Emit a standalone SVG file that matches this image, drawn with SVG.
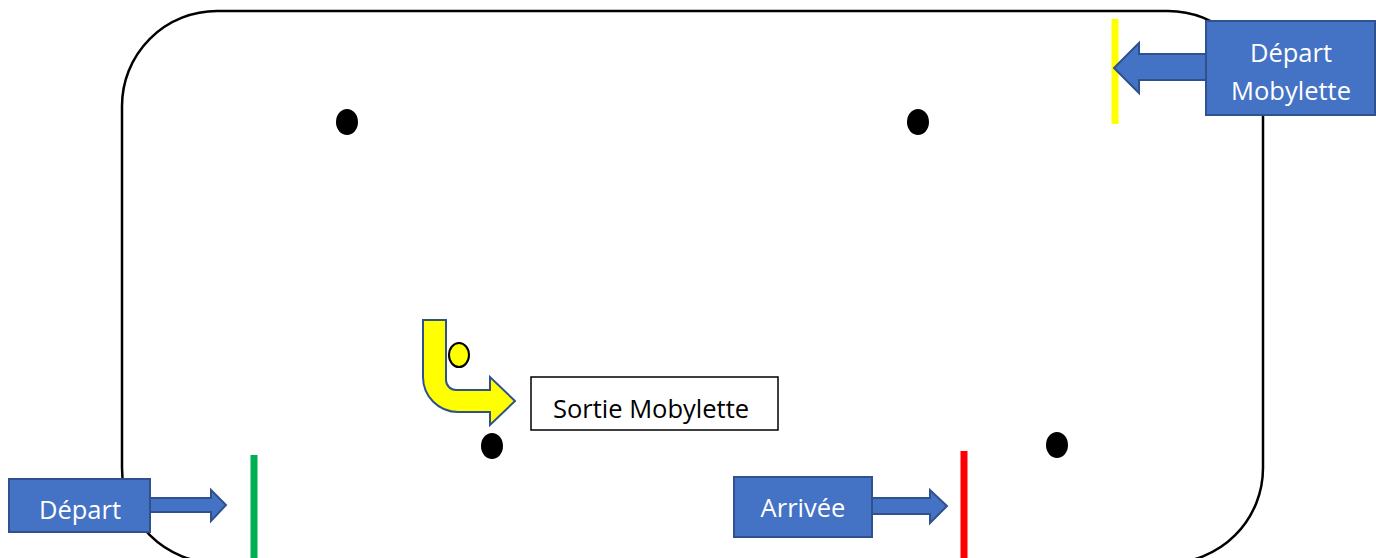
<svg xmlns="http://www.w3.org/2000/svg" width="1376" height="558" viewBox="0 0 1376 558">
<style>
.lbl{font-family:"Open Sans","Liberation Sans",sans-serif;font-size:25.5px;text-anchor:middle}
.w{fill:#ffffff}
.k{fill:#000000}
.blue{fill:#4472C4;stroke:#2F528F;stroke-width:2}
.dot{fill:#000000}
</style>
<rect width="1376" height="558" fill="#ffffff"/>
<g id="track"><rect x="122" y="11" width="1141" height="552" rx="95" ry="95" fill="none" stroke="#000000" stroke-width="2.5"/></g>
<g id="cones">
<ellipse class="dot" cx="347" cy="122" rx="11" ry="13"/>
<ellipse class="dot" cx="918" cy="122" rx="11" ry="13"/>
<ellipse class="dot" cx="492" cy="446" rx="11" ry="13"/>
<ellipse class="dot" cx="1057" cy="445" rx="11" ry="13"/>
</g>
<g id="lines">
<line x1="1115" y1="19" x2="1115" y2="124" stroke="#FFFF00" stroke-width="7"/>
<line x1="254" y1="455" x2="254" y2="558" stroke="#00B050" stroke-width="7"/>
<line x1="964" y1="451" x2="964" y2="558" stroke="#FF0000" stroke-width="7"/>
</g>
<g id="connectors">
<path class="blue" d="M1207,54 L1139,54 L1139,43 L1114,68 L1139,93 L1139,80 L1207,80 Z"/>
<path class="blue" d="M149,498 L211,498 L211,490 L226,505 L211,521 L211,512 L149,512 Z"/>
<path class="blue" d="M871,498 L930,498 L930,490 L947,506 L930,523 L930,514 L871,514 Z"/>
<path d="M423,320 L446,320 L446,380 A10,10 0 0 0 456,390 L490,390 L490,377 L515,401 L490,425 L490,412 L458,412 A35,35 0 0 1 423,377 Z" fill="#FFFF00" stroke="#2F528F" stroke-width="2"/>
</g>
<g id="mobylette"><ellipse cx="459" cy="355" rx="10" ry="12" fill="#FFFF00" stroke="#000000" stroke-width="2"/></g>
<g id="depart-mobylette">
<rect class="blue" x="1206" y="21" width="169" height="94"/>
<text class="lbl w" x="1291" y="62">Départ</text>
<text class="lbl w" x="1291" y="100">Mobylette</text>
</g>
<g id="depart">
<rect class="blue" x="9" y="479" width="141" height="53"/>
<text class="lbl w" x="80" y="519">Départ</text>
</g>
<g id="arrivee">
<rect class="blue" x="734" y="477" width="138" height="60"/>
<text class="lbl w" x="803" y="517">Arrivée</text>
</g>
<g id="sortie">
<rect x="531" y="377" width="247" height="53" fill="#ffffff" stroke="#000000" stroke-width="1.5"/>
<text class="lbl k" x="651" y="418">Sortie Mobylette</text>
</g>
</svg>
